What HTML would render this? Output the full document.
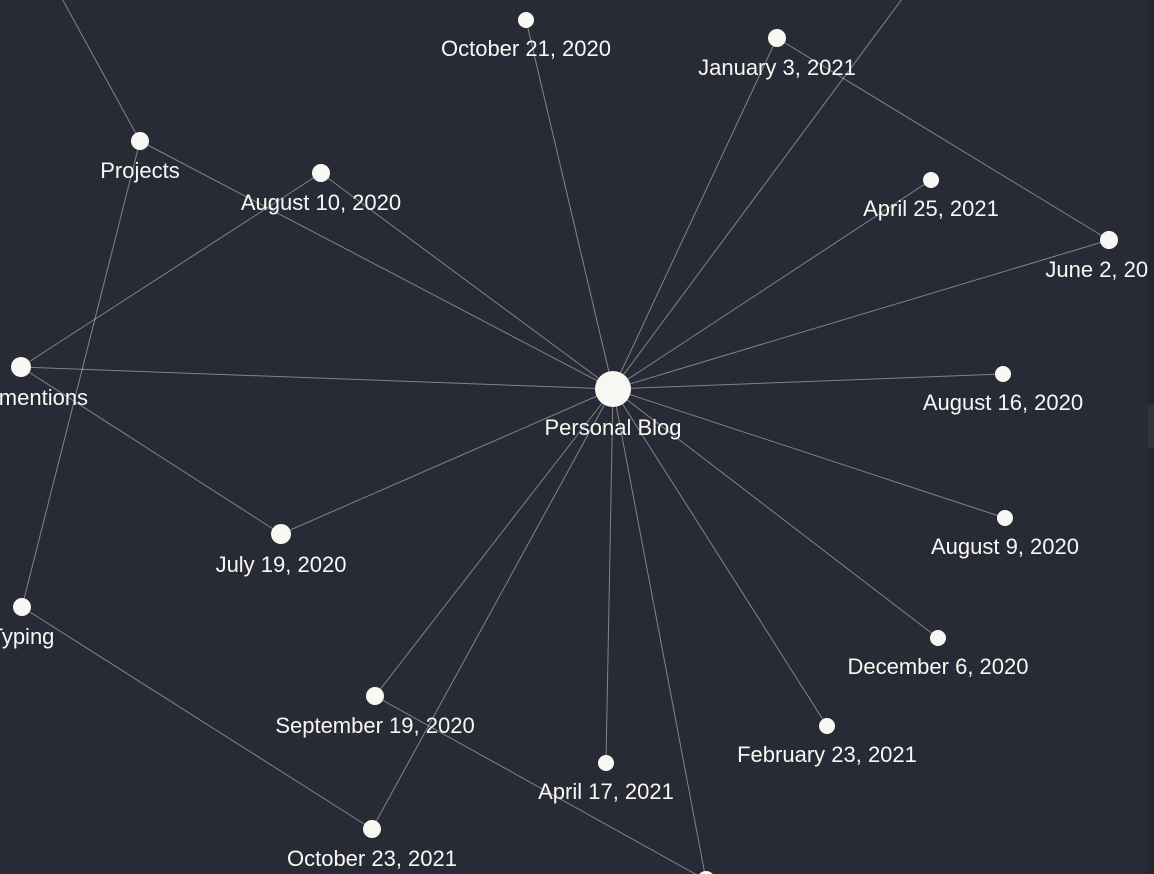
<!DOCTYPE html>
<html><head><meta charset="utf-8"><style>
html,body{margin:0;padding:0;background:#282a36;overflow:hidden}
svg{display:block}
text{font-family:"Liberation Sans",Arial,sans-serif;font-size:22px;fill:#f8f8f2;text-anchor:middle}
</style></head><body>
<svg id="g" width="1154" height="874">
<rect width="1154" height="874" fill="#282a36"/>
<g id="edges"></g><g id="nodes"></g>
<rect x="1148" y="0" width="6" height="874" fill="#23252f"/>
<rect x="1148" y="404" width="6" height="44" fill="#30323e"/>
</svg>
<script>
const nodeNames = ["Personal Blog","October 21, 2020","January 3, 2021","Projects","August 10, 2020","April 25, 2021","June 2, 2021","Webmentions","Typing","July 19, 2020","August 16, 2020","August 9, 2020","December 6, 2020","February 23, 2021","April 17, 2021","September 19, 2020","October 23, 2021","hidden-bottom","hidden-top-left","hidden-top-right"];
const nodeX = [613,526,777,140,321,931,1109,21,22,281,1003,1005,938,827,606,375,372,706,60,905];
const nodeY = [389,20,38,141,173,180,240,367,607,534,374,518,638,726,763,696,829,880,-5,-5];
const nodeR = [18,8,9,9,9,8,9,10,9,10,8,8,8,8,8,9,9,9,0,0];
const edgeFrom = [0,0,0,0,0,0,0,0,0,0,0,0,0,0,0,0,0,3,3,4,7,2,8,15];
const edgeTo   = [1,2,19,5,6,10,11,12,13,14,17,15,16,9,7,4,3,18,8,7,9,6,16,17];
const E=document.getElementById('edges'),N=document.getElementById('nodes'),ns='http://www.w3.org/2000/svg';
for(let i=0;i<edgeFrom.length;i++){
  const a=edgeFrom[i],b=edgeTo[i],l=document.createElementNS(ns,'line');
  l.setAttribute('x1',nodeX[a]);l.setAttribute('y1',nodeY[a]);l.setAttribute('x2',nodeX[b]);l.setAttribute('y2',nodeY[b]);
  l.setAttribute('stroke','rgba(255,255,255,0.42)');l.setAttribute('stroke-width','1');
  
  
  E.appendChild(l);
}
for(let i=0;i<nodeNames.length;i++){
  if(nodeR[i]===0)continue;
  const c=document.createElementNS(ns,'circle');
  c.setAttribute('cx',nodeX[i]);c.setAttribute('cy',nodeY[i]);c.setAttribute('r',nodeR[i]);c.setAttribute('fill','#f8f8f2');
  
  
  N.appendChild(c);
  if(nodeNames[i]==='hidden-bottom')continue;
  const t=document.createElementNS(ns,'text');
  t.setAttribute('x',nodeX[i]);t.setAttribute('y',nodeY[i]+nodeR[i]+28);
  t.textContent=nodeNames[i];
  
  
  N.appendChild(t);
}
</script>
</body></html>
